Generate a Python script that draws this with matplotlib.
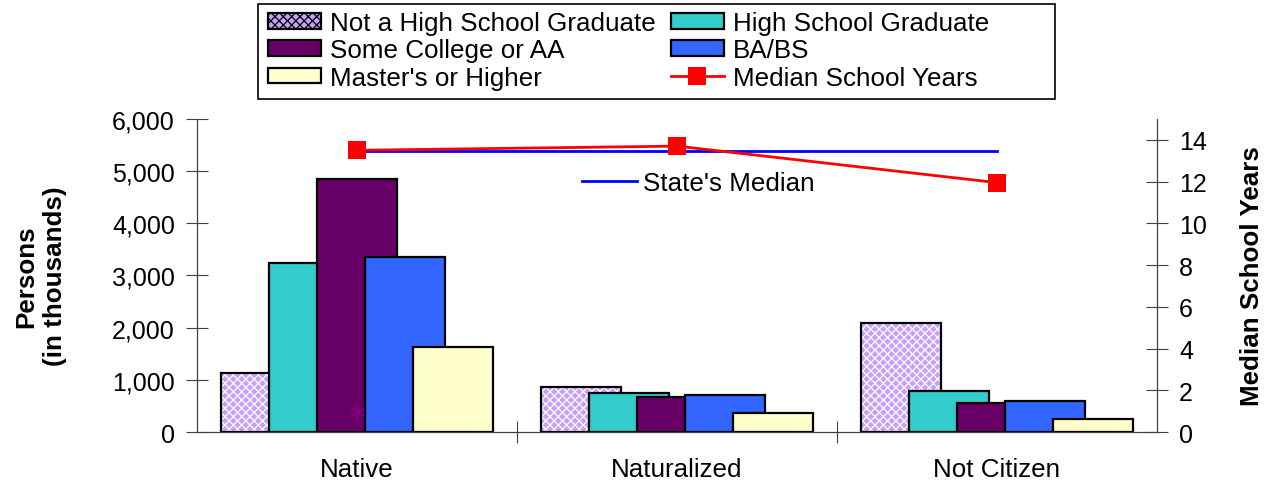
import matplotlib
matplotlib.use('Agg')
import matplotlib.pyplot as plt
from matplotlib.patches import Patch, Rectangle
from matplotlib.lines import Line2D
import numpy as np

plt.rcParams['font.family'] = ['Liberation Sans', 'DejaVu Sans']
plt.rcParams['hatch.linewidth'] = 0.9

# data
categories = ['Native', 'Naturalized', 'Not Citizen']
series_names = ['Not a High School Graduate', 'High School Graduate',
                'Some College or AA', 'BA/BS', "Master's or Higher"]
not_hs = [1130, 870, 2095]
hs_grad = [3245, 750, 785]
some_college = [4855, 680, 565]
ba_bs = [3355, 715, 600]
masters = [1635, 370, 255]
median_years = [13.5, 13.7, 11.95]
state_median = 13.45
odd_marker = [0.95]   # stray marker at Native

series = [not_hs, hs_grad, some_college, ba_bs, masters]
colors = ['#C9A0F7', '#33CCCC', '#660066', '#3366FF', '#FFFFCC']
FS = 18.7

fig = plt.figure(figsize=(12.71, 4.85), dpi=100)
ax = fig.add_axes([0.155, 0.1072, 0.7553, 0.6454])
ax2 = ax.twinx()

x = np.arange(len(categories))
w = 0.25
step = 0.15
for i, vals in enumerate(series):
    left = x - 0.425 + step * i
    if i == 0:
        # hatched lavender fill, white pattern
        ax.bar(left, vals, width=w, align='edge', color=colors[i],
               edgecolor='white', hatch='xxxx', linewidth=0, zorder=2 + i)
        ax.bar(left, vals, width=w, align='edge', fill=False,
               edgecolor='black', linewidth=1.6, zorder=2 + i)
    else:
        ax.bar(left, vals, width=w, align='edge', color=colors[i],
               edgecolor='black', linewidth=1.6, zorder=2 + i)

ax.set_xlim(-0.5, 2.5)
ax.set_ylim(0, 6000)
ax.set_yticks(np.arange(0, 6001, 1000))
ax.set_yticklabels(['{:,}'.format(v) for v in range(0, 6001, 1000)], fontsize=18)
ax.set_xticks([0.5, 1.5])
ax.set_xticklabels([])
ax.set_xticks(x, minor=True)
ax.set_xticklabels(categories, minor=True, fontsize=FS)
ax.tick_params(axis='x', which='minor', length=0, pad=18)
ax.tick_params(axis='x', which='major', direction='inout', length=16, color='#404040')
ax.tick_params(axis='y', direction='inout', length=16, color='#404040', pad=8)
ax.set_ylabel('Persons\n(in thousands)', fontsize=FS, fontweight='bold',
              labelpad=32, linespacing=1.3)
ax.spines['top'].set_visible(False)
for s in ['left', 'bottom', 'right']:
    ax.spines[s].set_color('#404040')

ax2.plot(x[[0, -1]], [state_median, state_median], color='#0000FF', lw=2, zorder=5)
ax2.plot(x, median_years, color='#FF0000', lw=2, marker='s', ms=12.5,
         markeredgewidth=0, zorder=6)
ax2.plot(x[:1], odd_marker, linestyle='none', marker=(6, 2, 0), ms=11,
         color='#800080', markeredgewidth=1.3, zorder=7)
ax2.set_ylim(0, 15)
ax2.set_yticks(np.arange(0, 15, 2))
ax2.tick_params(axis='y', labelsize=18, direction='inout', length=16, color='#404040', pad=8)
ax2.set_ylabel('Median School Years', fontsize=FS, fontweight='bold', labelpad=24)
ax2.spines['top'].set_visible(False)
for s in ['left', 'bottom', 'right']:
    ax2.spines[s].set_color('#404040')

# State's median label as a small legend
sm_leg = ax2.legend(handles=[Line2D([], [], color='#0000FF', lw=2)],
                    labels=["State's Median"], frameon=False, fontsize=FS,
                    handlelength=2.1, handletextpad=0.25,
                    loc='center left', bbox_to_anchor=(582 / 1271, 1 - 184 / 485),
                    bbox_transform=fig.transFigure, borderpad=0, borderaxespad=0)

# main legend (frame drawn separately, Excel-style wide box)
handles = [Patch(facecolor=colors[0], edgecolor='black', hatch='xxxx', linewidth=1.6),
           Patch(facecolor=colors[1], edgecolor='black', linewidth=1.6),
           Patch(facecolor=colors[2], edgecolor='black', linewidth=1.6),
           Patch(facecolor=colors[3], edgecolor='black', linewidth=1.6),
           Patch(facecolor=colors[4], edgecolor='black', linewidth=1.6),
           Line2D([], [], color='#FF0000', lw=2, marker='s', ms=12.5, markeredgewidth=0)]
labels = series_names + ['Median School Years']
order = [0, 2, 4, 1, 3, 5]
leg = fig.legend([handles[k] for k in order], [labels[k] for k in order],
                 ncol=2, loc='upper left', bbox_to_anchor=(268 / 1271, 1 - 12 / 485),
                 fontsize=FS, frameon=False,
                 handlelength=2.03, handleheight=0.55, handletextpad=0.36,
                 columnspacing=0.58, labelspacing=0.13, borderpad=0, borderaxespad=0)
fig.add_artist(Rectangle((258 / 1271, 1 - 100 / 485), 797 / 1271, 95 / 485,
                         transform=fig.transFigure, fill=False,
                         edgecolor='black', linewidth=1.2))

fig.savefig('out.png', dpi=100)
